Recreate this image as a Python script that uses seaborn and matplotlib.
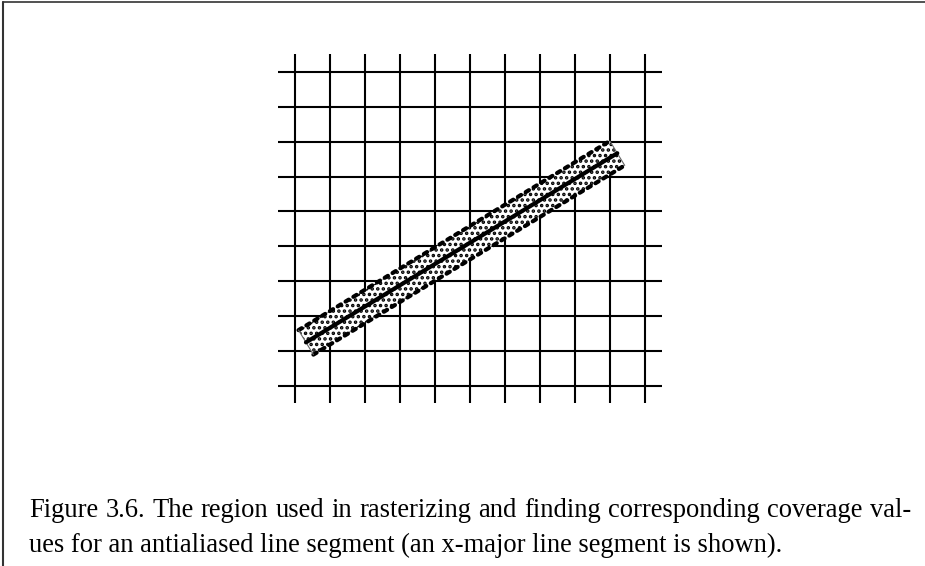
import numpy as np
import pandas as pd
import matplotlib
matplotlib.use("Agg")
import matplotlib.pyplot as plt
from matplotlib.patches import Polygon
from matplotlib.lines import Line2D
import seaborn as sns

# ---- data (grid units) ----
grid_x = list(range(0, 11))          # vertical grid lines
grid_y = list(range(0, 10))          # horizontal grid lines
grid_ext = 0.5                       # how far lines extend past the outer lines
seg_x = [0.30, 9.22]                 # line segment endpoints (x)
seg_y = [1.25, 6.67]                 # line segment endpoints (y)
seg_width = 0.82                     # width of the antialiasing region
caption_lines = [
    "Figure 3.6. The region used in rasterizing and finding corresponding coverage val-",
    "ues for an antialiased line segment (an x-major line segment is shown).",
]

sns.set_theme(style="white")
plt.rcParams["font.family"] = ["Liberation Serif", "DejaVu Serif"]

W, H, DPI = 925, 566, 100
fig = plt.figure(figsize=(W / DPI, H / DPI), dpi=DPI)
ax = fig.add_axes([0, 0, 1, 1])
ax.set_axis_off()

unit = 34.9
xlim = (-295.5 / unit, (W - 295.5) / unit)
ylim = ((386 - H) / unit, 386 / unit)

# grid
ax.vlines(grid_x, min(grid_y) - grid_ext, max(grid_y) + grid_ext, colors="black", lw=1.5, zorder=2)
ax.hlines(grid_y, min(grid_x) - grid_ext, max(grid_x) + grid_ext, colors="black", lw=1.5, zorder=2)

# rectangle region around the segment
p0 = np.array([seg_x[0], seg_y[0]])
p1 = np.array([seg_x[1], seg_y[1]])
d = (p1 - p0) / np.linalg.norm(p1 - p0)
perp = np.array([-d[1], d[0]]) * seg_width / 2
corners = np.array([p0 + perp, p0 - perp, p1 - perp, p1 + perp])

poly = Polygon(corners, closed=True, facecolor="white", edgecolor="none", zorder=3)
ax.add_patch(poly)
plt.rcParams["hatch.linewidth"] = 1.7
poly2 = Polygon(corners, closed=True, facecolor="none", edgecolor="black", lw=0,
                hatch="...", zorder=4)
ax.add_patch(poly2)

# long sides: dotted
for a, b in [(corners[0], corners[3]), (corners[1], corners[2])]:
    ax.plot([a[0], b[0]], [a[1], b[1]], color="black", lw=3.0, ls=(0, (0.9, 1.3)),
            dash_capstyle="round", zorder=5)
# short ends: thin gray
for a, b in [(corners[0], corners[1]), (corners[2], corners[3])]:
    ax.plot([a[0], b[0]], [a[1], b[1]], color="#666666", lw=0.8, zorder=5)

# center line
df = pd.DataFrame({"x": seg_x, "y": seg_y})
sns.lineplot(data=df, x="x", y="y", ax=ax, color="black", lw=3.0, sort=False,
             legend=False, zorder=6)
ax.set_xlim(*xlim)
ax.set_ylim(*ylim)
ax.set_axis_off()

# caption (first line justified to the right margin)
fs = 19.1
left_px, right_px = 29, 911
base = [516.7, 551.5]
renderer = fig.canvas.get_renderer()

words = caption_lines[0].split(" ")
tmp = [fig.text(0, 0, w, fontsize=fs) for w in words]
widths = [t.get_window_extent(renderer).width for t in tmp]
for t in tmp:
    t.remove()
gap = (right_px - left_px - sum(widths)) / (len(words) - 1)
xpos = left_px
for w, wd in zip(words, widths):
    fig.text(xpos / W, 1 - base[0] / H, w, fontsize=fs, va="baseline", ha="left", color="black")
    xpos += wd + gap

fig.text(left_px / W, 1 - base[1] / H, caption_lines[1], fontsize=fs, va="baseline",
         ha="left", color="black")

# page frame (top + left)
fig.add_artist(Line2D([3 / W, 1], [1 - 1.5 / H, 1 - 1.5 / H], transform=fig.transFigure,
                      color="#333333", lw=1.2))
fig.add_artist(Line2D([3 / W, 3 / W], [0, 1 - 1.5 / H], transform=fig.transFigure,
                      color="#333333", lw=1.5))

fig.savefig("out.png", dpi=DPI)
